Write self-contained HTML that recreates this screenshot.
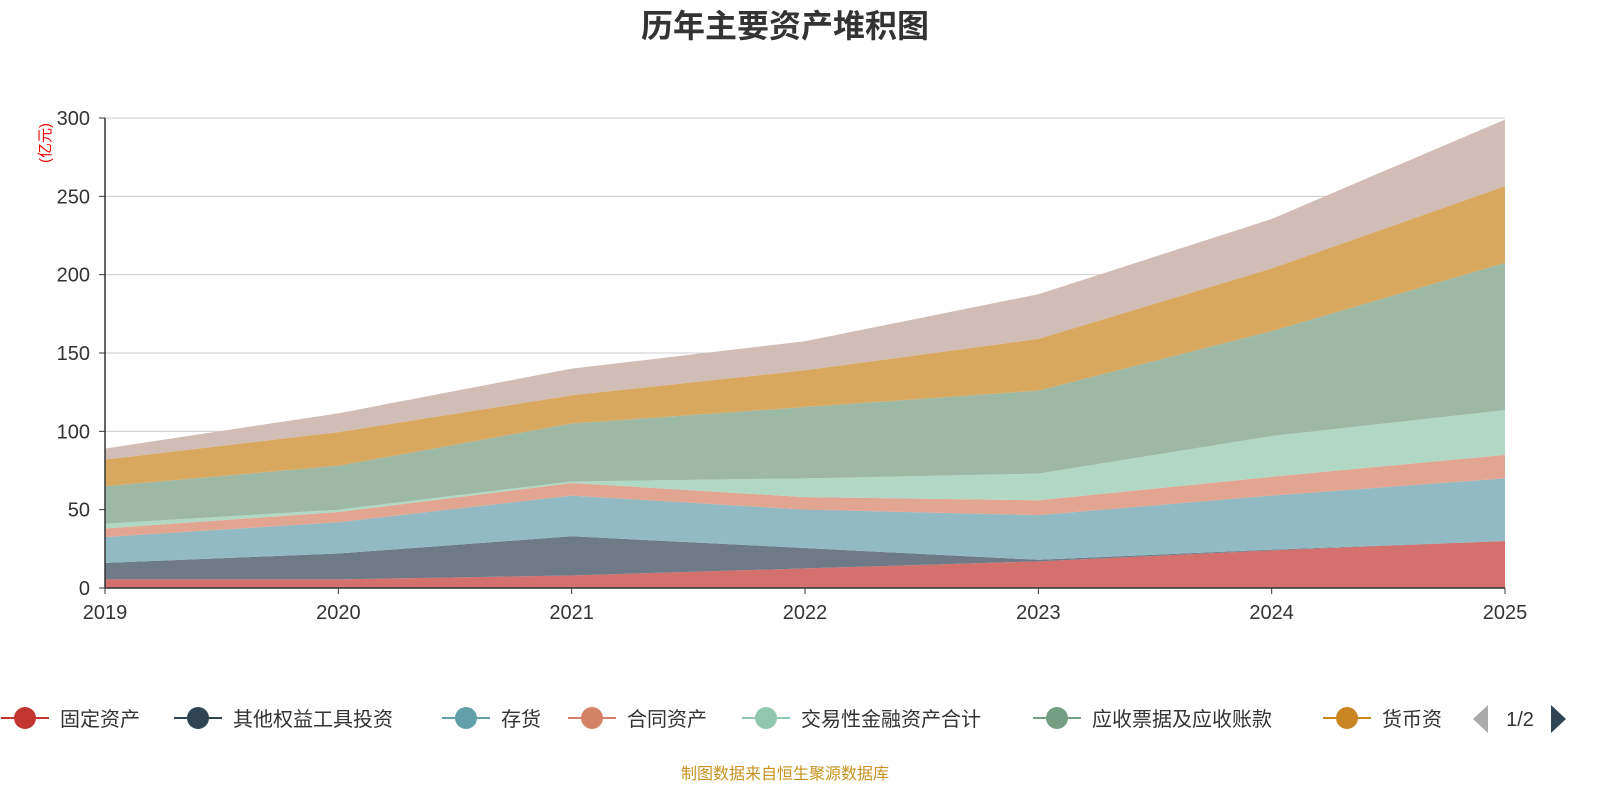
<!DOCTYPE html>
<html><head><meta charset="utf-8">
<style>
body{margin:0;background:#fff;width:1600px;height:800px;overflow:hidden;font-family:"Liberation Sans","Noto Sans CJK SC",sans-serif;}
</style></head>
<body>
<svg id="chart" width="1600" height="800" xmlns="http://www.w3.org/2000/svg">
<text x="785" y="37" text-anchor="middle" font-size="32" font-weight="bold" fill="#333" font-family="Liberation Sans, Noto Sans CJK SC, sans-serif">历年主要资产堆积图</text>
<text transform="translate(50,143) rotate(-90)" text-anchor="middle" font-size="15" fill="#e00" font-family="Liberation Sans, Noto Sans CJK SC, sans-serif">(亿元)</text>
<g id="grid"></g><g id="areas"></g><g id="axes"></g><g id="legend"></g>
<text x="785" y="779" text-anchor="middle" font-size="16" fill="#c8921e" font-family="Liberation Sans, Noto Sans CJK SC, sans-serif">制图数据来自恒生聚源数据库</text>
</svg>
<script>
const years=['2019','2020','2021','2022','2023','2024','2025'];
const yTicks=[0,50,100,150,200,250,300];
const fixedAssets=[5.5,5.5,8,12.5,17,24,30];
const otherEquity=[10.5,16.5,25,13,1,0.5,0];
const inventory=[16.5,20,26,24.5,28.5,34.5,40];
const contractAssets=[5.5,6.5,8,8,9.5,12,15];
const tradingAssets=[3,1.5,1,12,17,26,28.5];
const receivables=[24,28,37,45.5,53,67,94];
const cash=[17,21.5,18,23.5,33,40,49];
const otherTop=[7,12,17,18.5,28.5,31.5,42.5];
const seriesNames=['固定资产','其他权益工具投资','存货','合同资产','交易性金融资产合计','应收票据及应收账款','货币资','其他'];
const series=[fixedAssets,otherEquity,inventory,contractAssets,tradingAssets,receivables,cash,otherTop];
const fills=['#d4706e','#6e7b86','#91bac2','#e2a592','#b0d8c4','#9db8a4','#d9a85f','#d1bcb6'];
const markers=['#c23531','#2f4554','#61a0a8','#d48265','#91c7ae','#749f83','#ca8622','#bda29a'];
const NS='http://www.w3.org/2000/svg';
const x0=105,x1=1505,yB=588,yT=118,yMax=300;
const xs=i=>x0+(x1-x0)*i/(years.length-1);
const ys=v=>yB-(yB-yT)*v/yMax;
function mk(tag,attrs,parent){const e=document.createElementNS(NS,tag);for(const k in attrs)e.setAttribute(k,attrs[k]);parent.appendChild(e);return e;}
const grid=document.getElementById('grid'),areas=document.getElementById('areas'),axes=document.getElementById('axes'),legend=document.getElementById('legend');
yTicks.forEach(t=>{
 const l=mk('line',{x1:x0,x2:x1,y1:ys(t),y2:ys(t),stroke:'#ccc','stroke-width':1},grid);
 
 
 const tx=mk('text',{x:x0-15,y:ys(t)+7,'text-anchor':'end','font-size':20,fill:'#333'},axes);
 tx.textContent=t;
 
 
 const tk=mk('line',{x1:x0-6,x2:x0,y1:ys(t),y2:ys(t),stroke:'#333'},axes);
 
 
});
let base=years.map(()=>0);
series.forEach((s,k)=>{
 const top=base.map((b,i)=>b+s[i]);
 let d='M'+years.map((_,i)=>xs(i)+','+ys(top[i])).join(' L');
 for(let i=years.length-1;i>=0;i--)d+=' L'+xs(i)+','+ys(base[i]);
 const p=mk('path',{d:d+'Z',fill:fills[k],stroke:'none'},areas);
 
 
 base=top;
});
mk('line',{x1:x0,x2:x1,y1:yB,y2:yB,stroke:'#333','stroke-width':1.5},axes);
mk('line',{x1:x0,x2:x0,y1:yT,y2:yB,stroke:'#333','stroke-width':1.5},axes);
years.forEach((y,i)=>{
 mk('line',{x1:xs(i),x2:xs(i),y1:yB,y2:yB+6,stroke:'#333'},axes);
 const t=mk('text',{x:xs(i),y:yB+31,'text-anchor':'middle','font-size':20,fill:'#333'},axes);
 t.textContent=y;
 
 
});
const lx=[25,198,466,592,766,1057,1347];
lx.forEach((cx,k)=>{
 const g=mk('g',{},legend);
 
 
 mk('line',{x1:cx-24,x2:cx+24,y1:718,y2:718,stroke:markers[k],'stroke-width':2},g);
 mk('circle',{cx:cx,cy:718,r:11,fill:markers[k]},g);
 const t=mk('text',{x:cx+35,y:726,'font-size':20,fill:'#333'},g);
 t.textContent=seriesNames[k];
});
const pl=mk('polygon',{points:'1473,719 1488,705 1488,733',fill:'#aaa'},legend);


const pt=mk('text',{x:1520,y:726,'text-anchor':'middle','font-size':20,fill:'#333'},legend);
pt.textContent='1/2';


const pr=mk('polygon',{points:'1566,719 1551,705 1551,733',fill:'#2f4554'},legend);


</script>
</body></html>
